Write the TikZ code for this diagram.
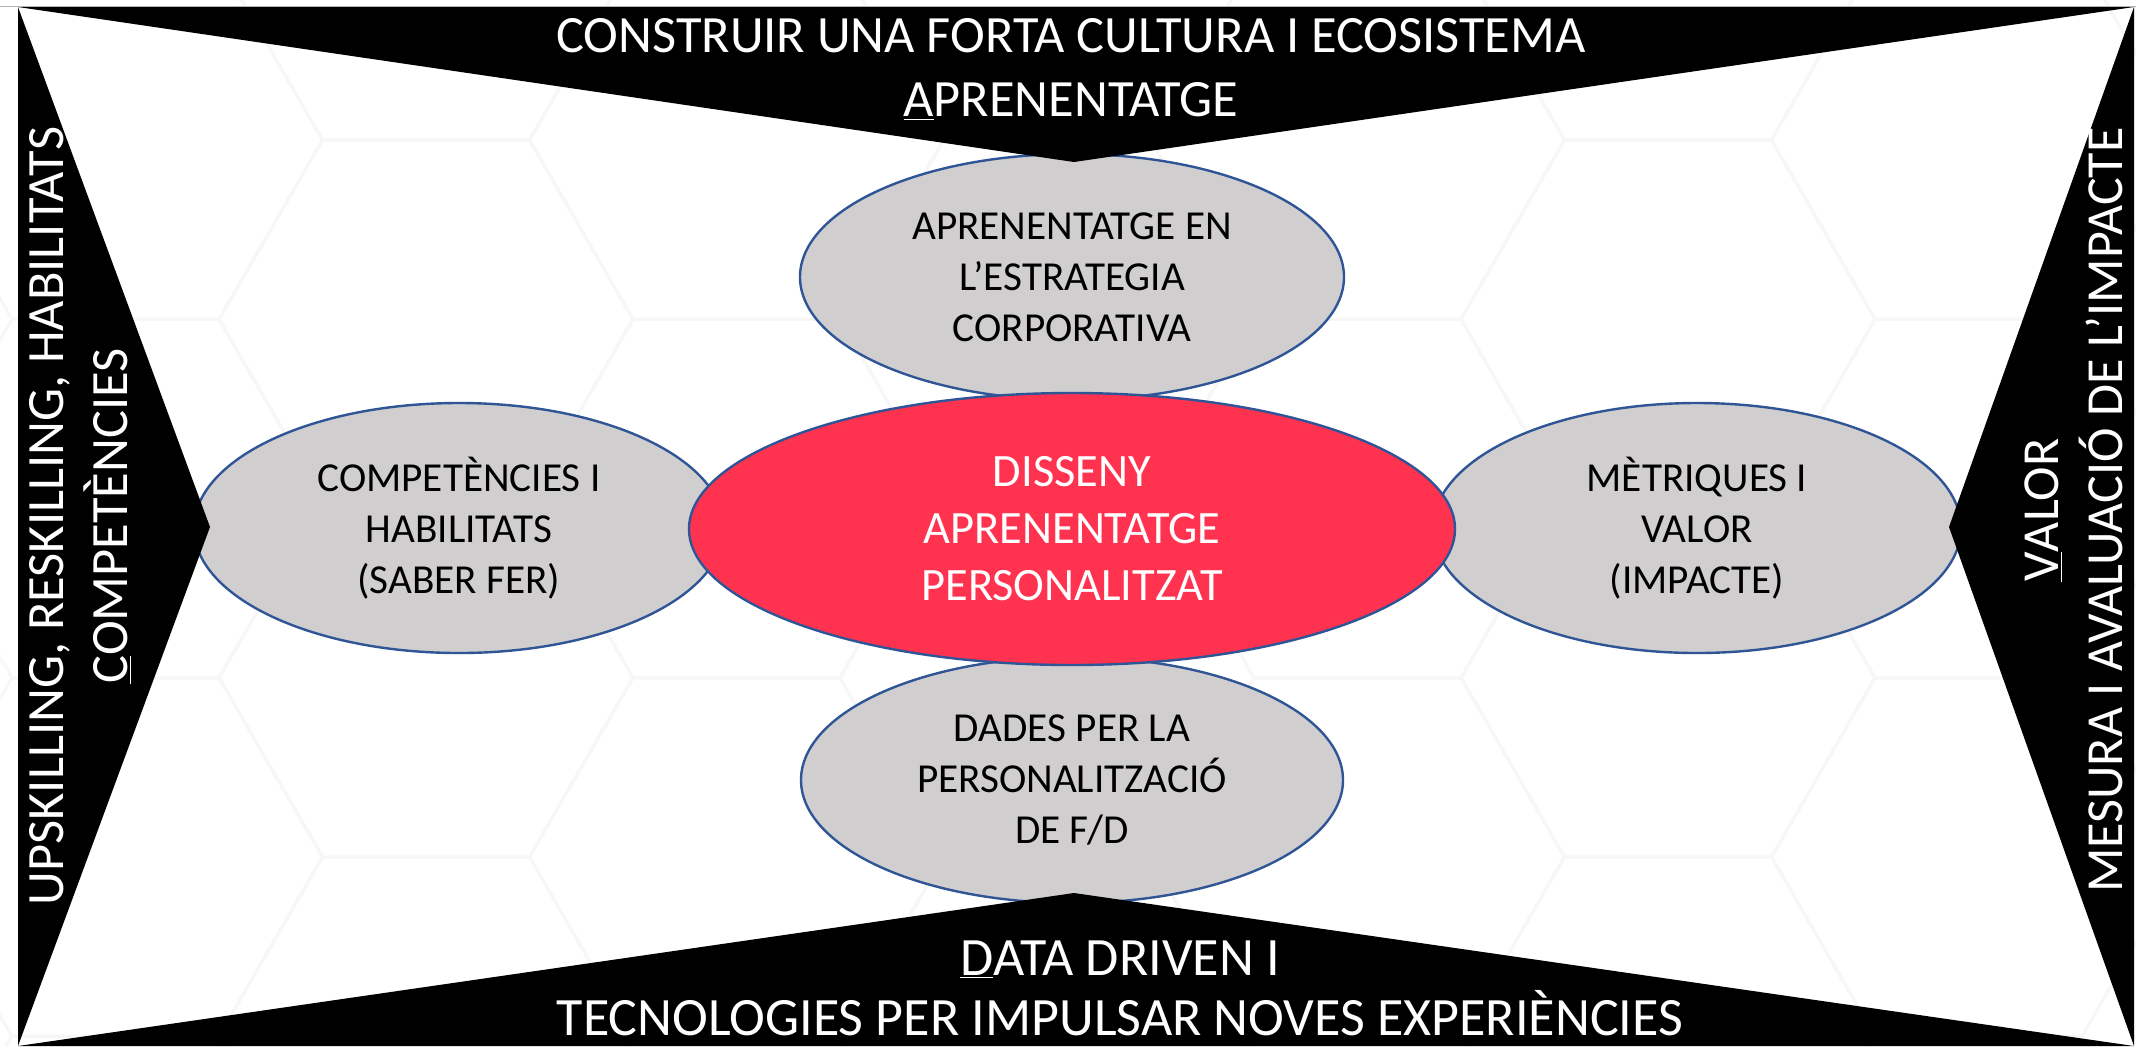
\documentclass[tikz,border=0pt]{standalone}
\usepackage{fontspec}
\setmainfont{Carlito}
\usepackage{tikz}
\usetikzlibrary{shapes.geometric}

\definecolor{ovalgray}{HTML}{D0CECE}
\definecolor{ovalblue}{HTML}{2F5597}
\definecolor{coralred}{HTML}{FF3350}

\tikzset{
  oval/.style={ellipse, draw=ovalblue, line width=1.2pt, fill=ovalgray, inner sep=0pt, align=center, font=\fontsize{20.6}{25.5}\selectfont},
  core/.style={oval, fill=coralred, text=white, font=\fontsize{23.2}{28.5}\selectfont},
  wedge/.style={fill=black},
  edgetext/.style={text=white, inner sep=0pt, align=center, font=\fontsize{26.2}{32}\selectfont},
  hexcell/.style={draw=black!3, line width=1.5pt},
}

\begin{document}
\begin{tikzpicture}[x=0.5pt,y=0.5pt,yscale=-1,xscale=1]
\useasboundingbox (0,0) rectangle (2136,1046);
%Background
\fill[white] (0,0) rectangle (2136,1046);
\begin{scope}
\clip (0,0) rectangle (2136,1046);
\foreach \i in {0,...,7}{
  \pgfmathsetmacro\cx{115.5+310.5*\i}
  \pgfmathsetmacro\off{mod(\i,2)*179.25}
  \foreach \j in {-1,...,3}{
    \pgfmathsetmacro\cy{140+358.5*\j+\off}
    \draw[hexcell] (\cx-207,\cy) -- ++(103.5,-179.25) -- ++(207,0) -- ++(103.5,179.25) -- ++(-103.5,179.25) -- ++(-207,0) -- cycle;
  }
}
\end{scope}
\draw[black!30] (0,6) -- (2136,6);

%Shape: Ellipse
\node[oval, minimum width=272pt, minimum height=123pt] (strategy) at (1072,277) {APRENENTATGE EN\\L’ESTRATEGIA\\CORPORATIVA};
%Shape: Ellipse
\node[oval, minimum width=265pt, minimum height=125pt] (skills) at (459,528) {COMPETÈNCIES I\\HABILITATS\\(SABER FER)};
%Shape: Ellipse
\node[oval, minimum width=264pt, minimum height=125pt] (metrics) at (1697,528) {MÈTRIQUES I\\VALOR\\(IMPACTE)};
%Shape: Ellipse
\node[oval, minimum width=271pt, minimum height=123pt] (data) at (1072,780) {DADES PER LA\\PERSONALITZACIÓ\\DE F/D};
%Shape: Ellipse
\node[core, minimum width=383pt, minimum height=136pt] (design) at (1072,529) {DISSENY\\APRENENTATGE\\PERSONALITZAT};

%Shape: Triangle
\fill[wedge] (18,7) -- (2134,7) -- (1074,162) -- cycle;
%Shape: Triangle
\fill[wedge] (18,7) -- (210,527) -- (18,1046) -- cycle;
%Shape: Triangle
\fill[wedge] (2134,7) -- (1949,527) -- (2134,1046) -- cycle;
%Shape: Triangle
\fill[wedge] (18,1046) -- (1074,893) -- (2134,1046) -- cycle;

% Text Node
\node[edgetext, anchor=north] (culture) at (1071,18) {CONSTRUIR UNA FORTA CULTURA I ECOSISTEMA\\\underline{A}PRENENTATGE};
% Text Node
\node[edgetext, anchor=north, rotate=90] (upskill) at (29,516) {UPSKILLING, RESKILLING, HABILITATS\\\underline{C}OMPETÈNCIES};
% Text Node
\node[edgetext, anchor=north, rotate=90, font=\fontsize{26}{32}\selectfont] (value) at (2024,510) {\underline{V}ALOR\\MESURA I AVALUACIÓ DE L’IMPACTE};
% Text Node
\node[edgetext, anchor=north, font=\fontsize{27}{30}\selectfont] (datadriven) at (1120,940) {\underline{D}ATA DRIVEN I\\TECNOLOGIES PER IMPULSAR NOVES EXPERIÈNCIES};
\end{tikzpicture}
\end{document}
